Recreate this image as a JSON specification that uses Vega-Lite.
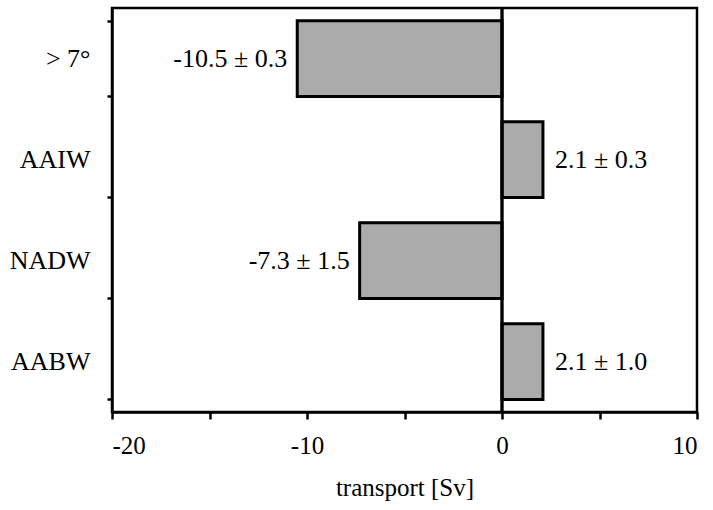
{
  "$schema": "https://vega.github.io/schema/vega-lite/v6.json",
  "autosize": {"type": "none"},
  "width": 585,
  "height": 404,
  "padding": {"left": 112, "top": 8, "right": 16, "bottom": 98},
  "background": "white",
  "config": {
    "font": "Liberation Serif",
    "view": {"stroke": "black", "strokeWidth": 2.5},
    "axis": {"labelFont": "Liberation Serif", "titleFont": "Liberation Serif", "labelColor": "black", "titleColor": "black", "domainColor": "black", "tickColor": "black", "domainWidth": 2.5, "tickWidth": 2.5, "grid": false}
  },
  "data": {
    "values": [
      {"mass": "> 7°", "transport": -10.5, "label": "-10.5 ± 0.3"},
      {"mass": "AAIW", "transport": 2.1, "label": "2.1 ± 0.3"},
      {"mass": "NADW", "transport": -7.3, "label": "-7.3 ± 1.5"},
      {"mass": "AABW", "transport": 2.1, "label": "2.1 ± 1.0"}
    ]
  },
  "encoding": {
    "y": {
      "field": "mass", "type": "nominal", "sort": null,
      "scale": {"paddingInner": 0.25, "paddingOuter": 0.125},
      "axis": {"title": null, "tickBand": "extent", "tickSize": 5, "labelPadding": 17, "labelFontSize": 26, "labelAngle": 0}
    }
  },
  "layer": [
    {
      "mark": {"type": "bar", "fill": "#ababab", "stroke": "black", "strokeWidth": 3},
      "encoding": {
        "x": {
          "field": "transport", "type": "quantitative",
          "scale": {"domain": [-20, 10], "nice": false, "zero": false},
          "axis": {"title": "transport [Sv]", "values": [-20, -15, -10, -5, 0, 5, 10], "labelExpr": "datum.value % 10 === 0 ? '' + datum.value : ''", "tickSize": 7, "labelPadding": 14, "labelFontSize": 25, "titleFontSize": 25, "titleFontWeight": "normal", "titlePadding": 17}
        }
      }
    },
    {
      "mark": {"type": "rule", "stroke": "black", "strokeWidth": 2.5},
      "encoding": {"x": {"datum": 0, "type": "quantitative"}, "y": null}
    },
    {
      "transform": [{"filter": "datum.transport < 0"}],
      "mark": {"type": "text", "align": "right", "baseline": "middle", "dx": -10, "fontSize": 26, "color": "black"},
      "encoding": {"x": {"field": "transport", "type": "quantitative"}, "text": {"field": "label"}}
    },
    {
      "transform": [{"filter": "datum.transport > 0"}],
      "mark": {"type": "text", "align": "left", "baseline": "middle", "dx": 12, "fontSize": 26, "color": "black"},
      "encoding": {"x": {"field": "transport", "type": "quantitative"}, "text": {"field": "label"}}
    }
  ]
}
